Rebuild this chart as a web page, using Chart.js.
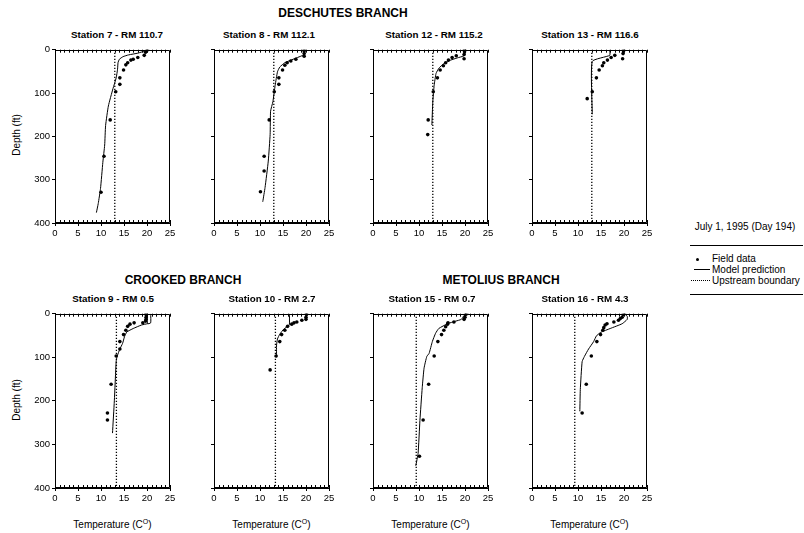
<!DOCTYPE html>
<html lang="en">
  <head>
    <meta charset="UTF-8" />
    <title>Temperature profiles - July 1, 1995</title>
    <script src="https://cdn.jsdelivr.net/npm/chart.js"></script>
    <style>
      body { margin: 0; background: #fff; font-family: "Liberation Sans", Arial, sans-serif; color: #000; }
      #wrap { position: relative; width: 804px; height: 533px; overflow: hidden; }
      #wrap canvas { position: absolute; }
      .txt { position: absolute; white-space: nowrap; transform: translate(-50%, -50%); line-height: 1; }
      .branch { font-size: 12px; font-weight: bold; }
      .station { font-size: 9.8px; font-weight: bold; }
      .axis { font-size: 10px; }
      .axis sup { font-size: 7px; vertical-align: 4px; }
      .rot { transform: translate(-50%, -50%) rotate(-90deg); }
      #legend { position: absolute; left: 690px; top: 245px; width: 113px; height: 48px;
        border-top: 1px solid #000; border-bottom: 1px solid #000; font-size: 10px; line-height: 1; }
      #legend .row { position: absolute; left: 22px; }
      #legend .sym { position: absolute; }
    </style>
  </head>
  <body>
    <div id="wrap">
      <div class="txt branch" style="left:343px; top:13px">DESCHUTES BRANCH</div>
      <div class="txt branch" style="left:183px; top:280px">CROOKED BRANCH</div>
      <div class="txt branch" style="left:501px; top:280px">METOLIUS BRANCH</div>

      <div class="txt axis rot" style="left:17px; top:135px">Depth (ft)</div>
      <div class="txt axis rot" style="left:17px; top:400px">Depth (ft)</div>

      <div class="txt axis" style="left:745px; top:227px">July 1, 1995 (Day 194)</div>

      <div id="legend">
        <div class="sym" style="left:6px; top:12px; width:3px; height:3px; border-radius:50%; background:#000"></div>
        <div class="row" style="top:8px">Field data</div>
        <div class="sym" style="left:4px; top:23px; width:16px; border-top:1px solid #000"></div>
        <div class="row" style="top:19px">Model prediction</div>
        <div class="sym" style="left:1px; top:34px; width:19px; border-top:1px dotted #000"></div>
        <div class="row" style="top:30px">Upstream boundary</div>
      </div>
    </div>

    <script>
      // ---- data (temperature degC, depth ft) ----
      const stations = ["Station 7 - RM 110.7", "Station 8 - RM 112.1", "Station 12 - RM 115.2", "Station 13 - RM 116.6",
                        "Station 9 - RM 0.5", "Station 10 - RM 2.7", "Station 15 - RM 0.7", "Station 16 - RM 4.3"];
      const boundary = [13.0, 13.0, 13.0, 13.0, 13.35, 13.35, 9.4, 9.3];

      const field7T = [20.1, 19.9, 19.7, 19.4, 18.0, 17.0, 16.5, 15.8, 15.4, 14.9, 14.1, 14.1, 13.2, 12.0, 10.65, 10.0];
      const field7D = [0, 3, 6, 13, 18, 22, 24, 30, 35, 47, 65, 80, 97, 162, 246, 329];
      const model7T = [19.9, 19.5, 18.0, 16.0, 14.8, 14.0, 13.7, 13.6, 13.3, 12.6, 11.6, 11.0, 10.8, 10.4, 9.9, 9.4, 9.0];
      const model7D = [0, 3, 8, 12, 16, 22, 30, 45, 65, 90, 130, 175, 220, 260, 320, 355, 376];

      const field8T = [19.6, 19.6, 19.6, 19.6, 17.8, 16.7, 15.9, 15.4, 14.9, 14.1, 14.1, 13.1, 12.0, 10.9, 10.9, 10.1];
      const field8D = [0, 3, 9, 15, 22, 26, 30, 36, 47, 65, 80, 97, 162, 246, 280, 328];
      const model8T = [19.6, 19.6, 19.1, 17.2, 15.4, 14.3, 13.8, 13.3, 12.8, 12.3, 12.2, 11.8, 11.1, 10.6];
      const model8D = [0, 11, 14, 22, 30, 40, 51, 82, 120, 142, 196, 257, 318, 351];

      const field12T = [19.9, 19.9, 19.9, 19.8, 19.8, 18.1, 17.2, 16.4, 15.8, 15.3, 14.6, 14.0, 13.1, 12.0, 11.9];
      const field12D = [0, 1.5, 5, 11, 21, 14, 18, 24, 30, 37, 47, 65, 97, 162, 196];
      const model12T = [20.1, 20.1, 19.8, 18.3, 16.9, 15.4, 14.3, 13.7, 13.3, 13.0, 12.8];
      const model12D = [0, 5, 14, 19, 24, 32, 43, 55, 82, 120, 174];

      const field13T = [19.9, 19.9, 19.8, 19.7, 18.0, 17.2, 16.4, 15.6, 15.3, 14.6, 14.0, 13.1, 12.0];
      const field13D = [0, 3, 9, 21, 13, 18, 24, 30, 37, 47, 65, 97, 113];
      const model13T = [16.9, 16.9, 13.1, 13.1];
      const model13D = [0, 13, 27, 149];

      const field9T = [19.8, 19.8, 19.8, 19.8, 19.7, 19.1, 17.2, 16.3, 15.8, 15.4, 14.9, 14.1, 14.1, 13.3, 12.2, 11.4, 11.4];
      const field9D = [0, 2, 8, 13, 17, 21, 21, 24, 29, 38, 48, 64, 81, 97, 162, 228, 244];
      const model9T = [20.8, 20.8, 20.1, 20.1, null, 20.1, 18.8, 17.0, 15.6, 15.1, 14.7, 14.1, 13.5, 13.3, 12.9, 12.5];
      const model9D = [0, 21, 23, 0, null, 23, 26, 34, 42, 53, 68, 81, 98, 109, 200, 274];

      const field10T = [20.1, 20.1, 20.0, 20.0, 19.1, 18.0, 17.4, 16.9, 16.0, 15.4, 14.7, 14.3, 13.5, 12.2];
      const field10D = [0, 2, 8, 13, 15, 19, 21, 24, 29, 38, 48, 64, 97, 129];
      const model10T = [16.4, 16.4, 16.2, 15.2, 14.3, 13.8, 13.6, 13.6];
      const model10D = [0, 24, 28, 35, 47, 58, 72, 100];

      const field15T = [20.4, 20.1, 20.0, 19.8, 17.6, 16.3, 16.2, 15.8, 15.4, 14.9, 14.1, 13.3, 12.1, 10.9, 10.1];
      const field15D = [0, 2, 8, 13, 19, 21, 24, 30, 38, 48, 64, 97, 162, 244, 327];
      const model15T = [20.5, 19.8, 19.2, 18.0, 16.2, 14.3, 13.6, 12.9, 12.2, 11.7, 11.1, 10.7, 10.2, 9.8, 9.3];
      const model15D = [0, 4, 13, 17, 23, 34, 45, 64, 91, 98, 125, 170, 245, 321, 349];

      const field16T = [20.1, 19.8, 19.6, 19.2, 18.8, 17.8, 16.3, 15.9, 15.6, 15.4, 14.9, 14.1, 12.9, 11.8, 10.9];
      const field16D = [0, 2, 8, 11, 15, 19, 23, 26, 32, 38, 48, 64, 97, 162, 228];
      const model16T = [20.1, 20.7, 20.7, 19.6, 17.0, 14.9, 14.0, 13.4, 12.3, 11.4, 10.9, 10.5, 10.4];
      const model16D = [0, 6, 13, 23, 34, 43, 51, 64, 81, 98, 110, 174, 224];

      const tempTicks = [0, 5, 10, 15, 20, 25];
      const depthTicks = [0, 100, 200, 300, 400];

      const fieldT = [field7T, field8T, field12T, field13T, field9T, field10T, field15T, field16T];
      const fieldD = [field7D, field8D, field12D, field13D, field9D, field10D, field15D, field16D];
      const modelT = [model7T, model8T, model12T, model13T, model9T, model10T, model15T, model16T];
      const modelD = [model7D, model8D, model12D, model13D, model9D, model10D, model15D, model16D];

      // ---- layout ----
      const plotLeft = [55, 214, 373, 532];
      const plotTop = [48, 312];
      const plotW = 115, plotH = [175, 176];
      const padL = 45, padT = 6, padR = 8, padB = 22;
      const titleX = [[117, 269, 434, 590], [113, 272, 432, 585]];
      const titleY = [35, 299];

      const wrap = document.getElementById("wrap");
      const zip = (xs, ys) => xs.map((x, i) => ({ x: x, y: ys[i] }));

      // frame + minor ticks (1 degC) drawn inside top and bottom edges
      const framePlugin = {
        id: "frame",
        afterDraw(chart) {
          const { ctx, chartArea: a } = chart;
          const xs = chart.scales.x;
          ctx.save();
          ctx.strokeStyle = "#000";
          ctx.lineWidth = 1;
          ctx.beginPath();
          ctx.rect(Math.round(a.left) + 0.5, Math.round(a.top) + 0.5, Math.round(a.width) - 1, Math.round(a.height) - 1);
          for (let v = 0; v <= 25; v++) {
            const px = Math.round(xs.getPixelForValue(v)) + 0.5;
            ctx.moveTo(px, a.top);
            ctx.lineTo(px, a.top + 3);
            ctx.moveTo(px, a.bottom);
            ctx.lineTo(px, a.bottom - 3);
          }
          ctx.stroke();
          ctx.restore();
        }
      };

      stations.forEach((name, i) => {
        const row = i < 4 ? 0 : 1;
        const col = i % 4;
        const first = col === 0;

        const t = document.createElement("div");
        t.className = "txt station";
        t.style.left = titleX[row][col] + "px";
        t.style.top = titleY[row] + "px";
        t.textContent = name;
        wrap.appendChild(t);

        if (row === 1) {
          const xl = document.createElement("div");
          xl.className = "txt axis";
          xl.style.left = (plotLeft[col] + plotW / 2) + "px";
          xl.style.top = "524px";
          xl.innerHTML = "Temperature (C<sup>O</sup>)";
          wrap.appendChild(xl);
        }

        const cv = document.createElement("canvas");
        const w = padL + plotW + padR, h = padT + plotH[row] + padB;
        cv.width = w;
        cv.height = h;
        cv.style.left = (plotLeft[col] - padL) + "px";
        cv.style.top = (plotTop[row] - padT) + "px";
        wrap.appendChild(cv);

        new Chart(cv, {
          type: "scatter",
          data: {
            datasets: [
              {
                data: [{ x: boundary[i], y: 0 }, { x: boundary[i], y: 400 }],
                showLine: true,
                borderColor: "#000",
                borderWidth: 1.3,
                borderDash: [1.3, 1.7],
                pointRadius: 0
              },
              {
                data: zip(modelT[i], modelD[i]),
                showLine: true,
                borderColor: "#000",
                borderWidth: 1,
                tension: 0.15,
                pointRadius: 0
              },
              {
                data: zip(fieldT[i], fieldD[i]),
                backgroundColor: "#000",
                borderColor: "#000",
                borderWidth: 0,
                pointRadius: 1.8
              }
            ]
          },
          options: {
            responsive: false,
            animation: false,
            devicePixelRatio: 1,
            layout: { padding: { top: padT, right: padR, left: 0, bottom: 0 } },
            plugins: { legend: { display: false }, tooltip: { enabled: false } },
            scales: {
              x: {
                type: "linear",
                min: 0,
                max: 25,
                afterBuildTicks: s => { s.ticks = tempTicks.map(v => ({ value: v })); },
                afterFit: s => { s.height = padB; },
                ticks: {
                  color: "#000",
                  padding: 2,
                  maxRotation: 0,
                  font: { family: "Liberation Sans", size: 9.5 }
                },
                grid: { drawOnChartArea: false, tickLength: 3, color: "#000" },
                border: { display: true, color: "#000" }
              },
              y: {
                type: "linear",
                reverse: true,
                min: 0,
                max: 400,
                afterBuildTicks: s => { s.ticks = depthTicks.map(v => ({ value: v })); },
                afterFit: s => { s.width = padL; },
                ticks: {
                  color: "#000",
                  padding: 2,
                  font: { family: "Liberation Sans", size: 9.5 },
                  callback: v => (first ? v : "")
                },
                grid: { drawOnChartArea: false, tickLength: 3, color: "#000" },
                border: { display: true, color: "#000" }
              }
            }
          },
          plugins: [framePlugin]
        });
      });
    </script>
  </body>
</html>
